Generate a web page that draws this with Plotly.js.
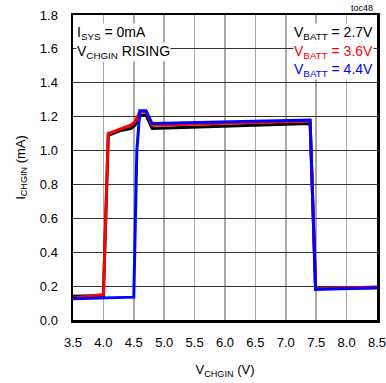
<!DOCTYPE html>
<html><head><meta charset="utf-8">
<script src="https://cdn.plot.ly/plotly-3.0.1.min.js"></script>
<style>body{margin:0;background:#fff}#c{width:386px;height:383px}</style>
</head><body><div id="c"></div>
<script>
var vBlack = [3.5, 4.0, 4.08, 4.3, 4.45, 4.52, 4.62, 4.7, 4.8, 7.4, 7.49, 8.5];
var iBlack = [0.14, 0.145, 1.09, 1.12, 1.13, 1.15, 1.21, 1.21, 1.13, 1.16, 0.185, 0.19];
var vRed = [3.5, 4.0, 4.08, 4.3, 4.45, 4.52, 4.6, 4.7, 4.8, 7.4, 7.49, 8.5];
var iRed = [0.13, 0.15, 1.10, 1.13, 1.15, 1.17, 1.23, 1.23, 1.15, 1.175, 0.185, 0.195];
var vBlue = [3.5, 4.5, 4.55, 4.6, 4.7, 4.8, 7.4, 7.49, 8.5];
var iBlue = [0.125, 0.135, 1.0, 1.235, 1.235, 1.16, 1.18, 0.18, 0.19];
var seriesNames = ['V<sub>BATT</sub> = 2.7V', 'V<sub>BATT</sub> = 3.6V', 'V<sub>BATT</sub> = 4.4V'];
var seriesColors = ['#000000', '#ff0000', '#0000ff'];

var traces = [
  {x: vBlack, y: iBlack, mode: 'lines', line: {color: seriesColors[0], width: 3}},
  {x: vRed, y: iRed, mode: 'lines', line: {color: seriesColors[1], width: 3}},
  {x: vBlue, y: iBlue, mode: 'lines', line: {color: seriesColors[2], width: 3}}
];
var F = 'Liberation Sans, Arial, sans-serif';
var step = 0.062;
var anns = [
  {xref: 'paper', yref: 'paper', x: 0.01, y: 0.975, xanchor: 'left', yanchor: 'top', text: 'I<sub>SYS</sub> = 0mA', showarrow: false, font: {family: F, size: 14, color: '#000'}, bgcolor: '#fff', borderpad: 0},
  {xref: 'paper', yref: 'paper', x: 0.01, y: 0.975 - step, xanchor: 'left', yanchor: 'top', text: 'V<sub>CHGIN</sub> RISING', showarrow: false, font: {family: F, size: 14, color: '#000'}, bgcolor: '#fff', borderpad: 0},
  {xref: 'paper', yref: 'paper', x: 0.995, y: 1.0, xanchor: 'right', yanchor: 'bottom', text: 'toc48', showarrow: false, font: {family: F, size: 9, color: '#000'}}
];
for (var k = 0; k < 3; k++) {
  anns.push({xref: 'paper', yref: 'paper', x: 0.99, y: 0.975 - k * step, xanchor: 'right', yanchor: 'top', text: seriesNames[k], showarrow: false, font: {family: F, size: 14, color: seriesColors[k]}, bgcolor: '#fff', borderpad: 0});
}
var layout = {
  width: 386, height: 383,
  margin: {l: 73, r: 9, t: 15, b: 63},
  paper_bgcolor: '#fff', plot_bgcolor: '#fff',
  showlegend: false,
  font: {family: F, size: 13, color: '#000'},
  xaxis: {range: [3.5, 8.5], dtick: 0.5, tickformat: '.1f', showgrid: true, gridcolor: '#aaaaaa', gridwidth: 1.5,
    showline: true, linecolor: '#000', linewidth: 2.5, mirror: true, zeroline: false, ticklabeloverflow: 'allow',
    ticks: 'outside', ticklen: 9, tickcolor: 'rgba(0,0,0,0)', tickfont: {family: F, size: 13},
    title: {text: 'V<sub>CHGIN</sub> (V)', font: {family: F, size: 13}, standoff: 16}},
  yaxis: {range: [0, 1.8], dtick: 0.2, tickformat: '.1f', showgrid: true, gridcolor: '#333333', gridwidth: 1,
    showline: true, linecolor: '#000', linewidth: 2.5, mirror: true, zeroline: false,
    ticks: 'outside', ticklen: 10, tickcolor: 'rgba(0,0,0,0)', tickfont: {family: F, size: 13},
    title: {text: 'I<sub>CHGIN</sub> (mA)', font: {family: F, size: 13}, standoff: 12}},
  annotations: anns
};
Plotly.newPlot('c', traces, layout, {staticPlot: true, displayModeBar: false});
</script></body></html>
